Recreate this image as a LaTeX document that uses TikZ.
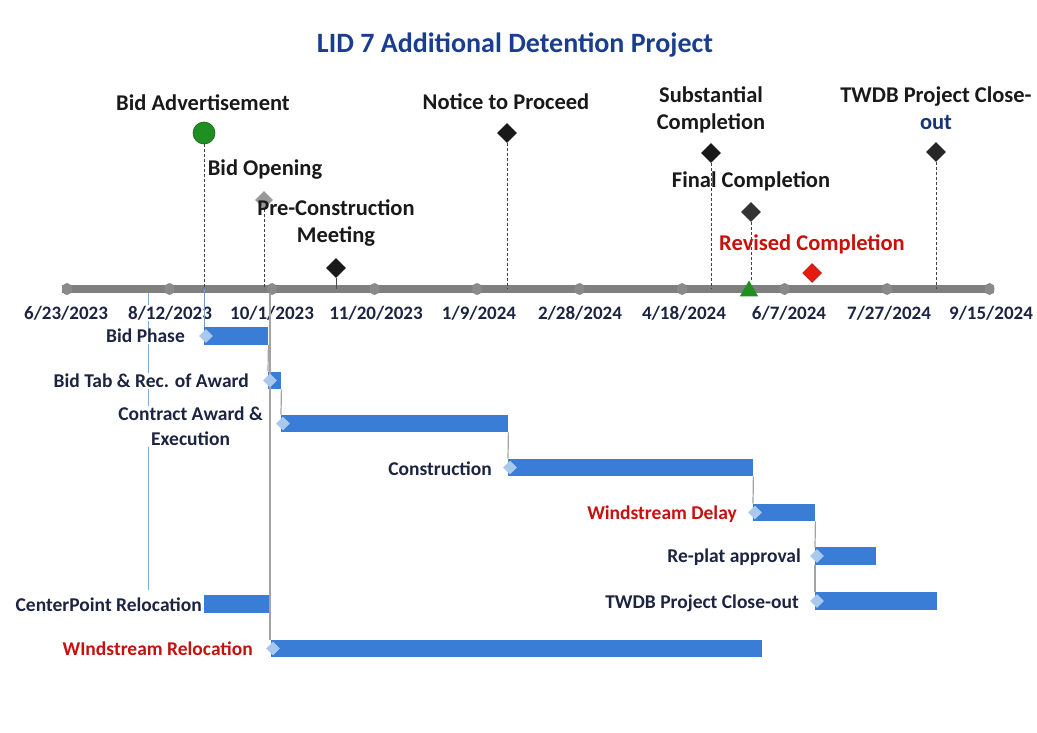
\documentclass[tikz,border=0pt]{standalone}
\usepackage{fontspec}
\setmainfont{Carlito}
\usetikzlibrary{shapes.geometric}
\definecolor{titleblue}{HTML}{1A3E8E}
\definecolor{navy}{HTML}{1C2442}
\definecolor{barblue}{HTML}{3A7DD6}
\definecolor{lightdia}{HTML}{A9C8EE}
\definecolor{axisgray}{HTML}{7F7F7F}
\definecolor{tickgray}{HTML}{8A8A8A}
\definecolor{linkgray}{HTML}{A3A3A3}
\definecolor{msred}{HTML}{E51A10}
\definecolor{lblred}{HTML}{C8100C}
\definecolor{msgreen}{HTML}{1F8F22}
\definecolor{guideblue}{HTML}{7FA8DE}
\begin{document}
\begin{tikzpicture}[x=1pt,y=-1pt,
  mslabel/.style={font=\bfseries\fontsize{22.5}{27}\selectfont, text=black!90, align=center, inner sep=1pt},
  datelabel/.style={font=\bfseries\fontsize{19}{22}\selectfont, text=navy, fill=white, inner sep=0.5pt},
  tasklabel/.style={font=\bfseries\fontsize{19.5}{25}\selectfont, text=navy, anchor=east, fill=white, inner sep=1pt, align=center},
  msdia/.style={diamond, fill=#1, minimum size=20pt, inner sep=0pt},
  tick/.style={ellipse, fill=tickgray, minimum width=10pt, minimum height=12pt, inner sep=0pt},
  bar/.style={rectangle, fill=barblue, inner sep=0pt, minimum height=17.5pt, anchor=west},
  startdia/.style={diamond, fill=lightdia, minimum size=14pt, inner sep=0pt},
  dashline/.style={densely dashed, black!75, line width=1pt},
  link/.style={linkgray, line width=1.2pt},
  guide/.style={guideblue, line width=1pt}]
\useasboundingbox (0,0) rectangle (1037,733);

% title
\node[font=\bfseries\fontsize{28}{32}\selectfont, text=titleblue] (title) at (515,45) {LID 7 Additional Detention Project};

% axis with date ticks every 50 days
\coordinate (axstart) at (62,289);
\coordinate (axend) at (994,289);
\draw[axisgray, line width=8pt] (axstart) -- (axend);
\foreach \i in {0,...,9}{
  \node[tick] (t\i) at ({67+102.5*\i},289) {};
}

% guide line from axis down to CenterPoint bar
\coordinate (gtop) at (148,293);
\coordinate (gbot) at (148,590);
\draw[guide] (gtop) -- (gbot);

% dependency line from axis down to Windstream Relocation
\coordinate (wrtop) at (270,293);

% date labels
\node[datelabel] (d0) at (66,313) {6/23/2023};
\node[datelabel] (d1) at (170,313) {8/12/2023};
\node[datelabel] (d2) at (272,313) {10/1/2023};
\node[datelabel] (d3) at (376,313) {11/20/2023};
\node[datelabel] (d4) at (479,313) {1/9/2024};
\node[datelabel] (d5) at (580,313) {2/28/2024};
\node[datelabel] (d6) at (684,313) {4/18/2024};
\node[datelabel] (d7) at (789,313) {6/7/2024};
\node[datelabel] (d8) at (889,313) {7/27/2024};
\node[datelabel] (d9) at (991,313) {9/15/2024};

% milestones
\node[circle, fill=msgreen, draw=msgreen!70!black, line width=0.6pt, minimum size=22pt, inner sep=0pt] (ba) at (204,133) {};
\node[mslabel] (balbl) at (203,103) {Bid Advertisement};
\draw[dashline] (ba.south) -- (ba.south |- axstart);

\node[msdia=gray!80, minimum size=18pt] (bo) at (264,200) {};
\node[mslabel] (bolbl) at (265,170) {Bid Opening};
\draw[dashline] (bo.south) -- (bo.south |- axstart);

\node[mslabel] (pcmlbl) at (336,223) {Pre-Construction\\Meeting};
\node[msdia=black!90] (pcm) at (336,268) {};
\draw[black!70, line width=1pt] (pcm.south) -- (pcm.south |- axstart);

\node[mslabel] (ntplbl) at (506,102) {Notice to Proceed};
\node[msdia=black!90] (ntp) at (507,133) {};
\draw[dashline] (ntp.south) -- (ntp.south |- axstart);

\node[mslabel] (sclbl) at (711,109.5) {Substantial\\Completion};
\node[msdia=black!90] (sc) at (711,153) {};
\draw[dashline] (sc.south) -- (sc.south |- axstart);

\node[mslabel] (fclbl) at (751,181) {Final Completion};
\node[msdia=black!80] (fc) at (751,212) {};
\node[regular polygon, regular polygon sides=3, fill=msgreen, minimum size=21pt, inner sep=0pt] (ms) at (749,291) {};
\draw[dashline] (fc.south) -- (fc.south |- ms.north);

\node[mslabel, text=lblred] (rclbl) at (812,244) {Revised Completion};
\node[msdia=msred, draw=msred!70!black, line width=0.5pt, minimum size=19pt] (rc) at (812,273) {};

\node[mslabel] (twlbl) at (936,108.5) {TWDB Project Close-\\{\color{titleblue!85!black}out}};
\node[msdia=black!85] (tw) at (936,152) {};
\draw[dashline] (tw.south) -- (tw.south |- axstart);

% gantt bars
\node[bar, minimum width=64pt] (bp) at (204,336) {};
\node[bar, minimum width=13pt] (bt) at (268,380.5) {};
\node[bar, minimum width=227pt] (ca) at (281,423.5) {};
\node[bar, minimum width=245pt] (cn) at (508,467.5) {};
\node[bar, minimum width=62pt] (wd) at (753,512.5) {};
\node[bar, minimum width=61pt] (rp) at (815,556) {};
\node[bar, minimum width=122pt] (tc) at (815,601) {};
\node[bar, minimum width=67pt] (cp) at (204,604) {};
\node[bar, minimum width=491pt] (wr) at (271,648.5) {};

% bid phase start line from the axis
\draw[guide, guideblue!60!gray] (ba.south |- axstart) -- (bp.north west);

% dependency links
\draw[link] (bp.south east) -- (bt.north west);
\draw[link] (bt.south east) -- (ca.north west);
\draw[link] (ca.south east) -- (cn.north west);
\draw[link] (cn.south east) -- (wd.north west);
\draw[link] (wd.south east) -- (rp.north west);
\draw[link] (rp.south west) -- (tc.north west);
\draw[link] (wrtop) -- (wrtop |- wr.north);

% start markers
\foreach \b in {bp,bt,ca,cn,wd,rp,tc,wr}{
  \node[startdia] (\b s) at ([xshift=2pt]\b.west) {};
}

% task labels
\node[tasklabel] (bplbl) at (186,336) {Bid Phase};
\node[tasklabel] (btlbl) at (250,381) {Bid Tab \& Rec. of Award};
\node[tasklabel] (calbl) at (264,426.5) {Contract Award \&\\Execution};
\node[tasklabel] (cnlbl) at (493,469) {Construction};
\node[tasklabel, text=lblred] (wdlbl) at (738,514) {Windstream Delay};
\node[tasklabel] (rplbl) at (802,557) {Re-plat approval};
\node[tasklabel] (tclbl) at (800,603) {TWDB Project Close-out};
\node[tasklabel] (cplbl) at (203,605) {CenterPoint Relocation};
\node[tasklabel, text=lblred] (wrlbl) at (254,649) {WIndstream Relocation};
\end{tikzpicture}
\end{document}
